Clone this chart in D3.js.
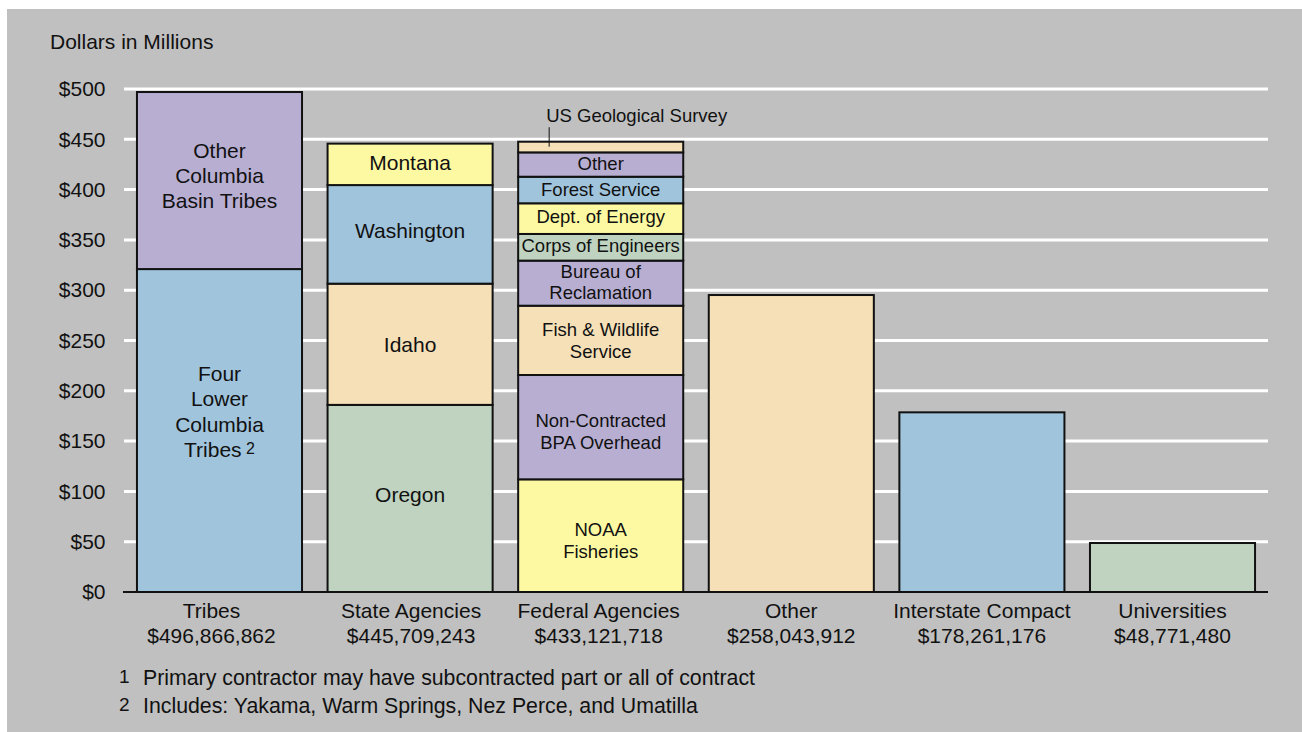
<!DOCTYPE html>
<html>
<head>
<meta charset="utf-8">
<script src="https://cdn.jsdelivr.net/npm/d3@7"></script>
<style>
  html, body { margin: 0; padding: 0; background: #ffffff; }
  svg { display: block; }
  text { font-family: "Liberation Sans", Arial, Helvetica, sans-serif; fill: #111; }
</style>
</head>
<body>
<svg id="chart" width="1302" height="732"></svg>
<script>
// ---------- DATA ----------
const categories = ["Tribes", "State Agencies", "Federal Agencies", "Other", "Interstate Compact", "Universities"];
const totalLabels = ["$496,866,862", "$445,709,243", "$433,121,718", "$258,043,912", "$178,261,176", "$48,771,480"];

const tribesParts  = ["Four Lower Columbia Tribes", "Other Columbia Basin Tribes"];
const tribesValues = [321, 176];

const stateParts  = ["Oregon", "Idaho", "Washington", "Montana"];
const stateValues = [186, 120.5, 98, 41.2];

const federalParts  = ["NOAA Fisheries", "Non-Contracted BPA Overhead", "Fish & Wildlife Service",
                       "Bureau of Reclamation", "Corps of Engineers", "Dept. of Energy",
                       "Forest Service", "Other", "US Geological Survey"];
const federalValues = [112, 103.7, 68.9, 44.8, 26.5, 30.5, 26.4, 24.2, 10.6];

const otherParts = ["Other"];              const otherValues = [295.2];
const interstateParts = ["Interstate Compact"]; const interstateValues = [178.6];
const universitiesParts = ["Universities"];  const universitiesValues = [48.7];

const yTicks = [0, 50, 100, 150, 200, 250, 300, 350, 400, 450, 500];

const footnotes = [
  ["1", "Primary contractor may have subcontracted part or all of contract"],
  ["2", "Includes: Yakama, Warm Springs, Nez Perce, and Umatilla"]
];

// ---------- STYLE ----------
const C = {
  blue: "#a0c4dc", purple: "#b8aed2", green: "#bfd3c0",
  tan: "#f5e0b8", yellow: "#fdf9a2", bg: "#c0c0c0"
};
const segColors = [
  [C.blue, C.purple],
  [C.green, C.tan, C.blue, C.yellow],
  [C.yellow, C.purple, C.tan, C.purple, C.green, C.yellow, C.blue, C.purple, C.tan],
  [C.tan], [C.blue], [C.green]
];
// label layout per segment: lines, font size, line height, vertical nudge; null = no inner label
const segLabels = [
  [ {lines: ["Four", "Lower", "Columbia", "Tribes"], sup: "2", fs: 21, lh: 25.5, nudge: -19},
    {lines: ["Other", "Columbia", "Basin Tribes"], fs: 21, lh: 25, nudge: -5.5} ],
  [ {lines: ["Oregon"], fs: 21, lh: 25, nudge: -4},
    {lines: ["Idaho"], fs: 21, lh: 25, nudge: 0},
    {lines: ["Washington"], fs: 21, lh: 25, nudge: -4},
    {lines: ["Montana"], fs: 21, lh: 25, nudge: -2} ],
  [ {lines: ["NOAA", "Fisheries"], fs: 18.5, lh: 21.5, nudge: 4.5},
    {lines: ["Non-Contracted", "BPA Overhead"], fs: 18.5, lh: 22, nudge: 4.5},
    {lines: ["Fish & Wildlife", "Service"], fs: 18.5, lh: 22, nudge: 0},
    {lines: ["Bureau of", "Reclamation"], fs: 18.5, lh: 21, nudge: -1},
    {lines: ["Corps of Engineers"], fs: 18.5, lh: 21, nudge: -2},
    {lines: ["Dept. of Energy"], fs: 18.5, lh: 21, nudge: -2},
    {lines: ["Forest Service"], fs: 18.5, lh: 21, nudge: -1},
    {lines: ["Other"], fs: 18.5, lh: 21, nudge: -1},
    null ],
  [null], [null], [null]
];
const xLabelNudge = [-8, 1, -2, 0, 0, 0];

const allParts  = [tribesParts, stateParts, federalParts, otherParts, interstateParts, universitiesParts];
const allValues = [tribesValues, stateValues, federalValues, otherValues, interstateValues, universitiesValues];

// ---------- SCALES ----------
const svg = d3.select("#chart");
const plotLeft = 124, plotRight = 1268, yBottom = 592, yTop = 89;

const x = d3.scaleBand().domain(categories).range([plotLeft, plotRight])
  .paddingInner(0.134).paddingOuter(0.068);
const y = d3.scaleLinear().domain([0, 500]).range([yBottom, yTop]);

// background panel
svg.append("rect").attr("x", 7).attr("y", 9).attr("width", 1295).attr("height", 723).attr("fill", C.bg);

// y label
svg.append("text").attr("x", 50).attr("y", 49).attr("font-size", 21).text("Dollars in Millions");

// gridlines
svg.append("g").selectAll("line").data(yTicks.filter(d => d > 0)).join("line")
  .attr("x1", plotLeft).attr("x2", plotRight)
  .attr("y1", d => y(d)).attr("y2", d => y(d))
  .attr("stroke", "#ffffff").attr("stroke-width", 3);

// y axis labels
const yAxis = svg.append("g").attr("transform", `translate(${plotLeft},0)`)
  .call(d3.axisLeft(y).tickValues(yTicks).tickFormat(d => "$" + d).tickSize(0).tickPadding(18.5));
yAxis.select(".domain").remove();
yAxis.selectAll("text").attr("font-size", 21).attr("font-family", '"Liberation Sans", Arial, sans-serif').attr("fill", "#111");

// bars
const barsG = svg.append("g");
categories.forEach((cat, ci) => {
  const vals = allValues[ci];
  let cum = 0;
  const segs = vals.map((v, i) => {
    const s = {cat, i, name: allParts[ci][i], y0: cum, y1: cum + v};
    cum += v;
    return s;
  });
  const g = barsG.append("g");
  g.selectAll("rect").data(segs).join("rect")
    .attr("x", x(cat)).attr("width", x.bandwidth())
    .attr("y", d => y(d.y1)).attr("height", d => y(d.y0) - y(d.y1))
    .attr("fill", d => segColors[ci][d.i])
    .attr("stroke", "#111").attr("stroke-width", 2);

  segs.forEach(s => {
    const L = segLabels[ci][s.i];
    if (!L) return;
    const cx = x(cat) + x.bandwidth() / 2;
    const cy = (y(s.y0) + y(s.y1)) / 2 + L.nudge;
    const n = L.lines.length;
    const cap = 0.716 * L.fs;
    const firstBase = cy - (n - 1) * L.lh / 2 + cap / 2;
    L.lines.forEach((line, li) => {
      const t = g.append("text").attr("x", cx).attr("y", firstBase + li * L.lh)
        .attr("text-anchor", "middle").attr("font-size", L.fs);
      t.append("tspan").text(line);
      if (L.sup && li === n - 1) {
        t.append("tspan").attr("font-size", 16).attr("dy", -3.5).text("\u00a0" + L.sup);
      }
    });
  });

  // US Geological Survey callout
  if (cat === "Federal Agencies") {
    const usgs = segs[segs.length - 1];
    const lx = x(cat) + 31;
    g.append("line").attr("x1", lx).attr("x2", lx)
      .attr("y1", y(usgs.y1) - 14.5).attr("y2", y(usgs.y1) + 5)
      .attr("stroke", "#111").attr("stroke-width", 1);
    g.append("text").attr("x", x(cat) + 28).attr("y", y(usgs.y1) - 20)
      .attr("font-size", 18.5).text(usgs.name);
  }
});

// x axis baseline
svg.append("line").attr("x1", plotLeft - 1).attr("x2", plotRight)
  .attr("y1", yBottom).attr("y2", yBottom).attr("stroke", "#111").attr("stroke-width", 2);

// category labels
const xl = svg.append("g");
categories.forEach((cat, ci) => {
  const cx = x(cat) + x.bandwidth() / 2 + xLabelNudge[ci];
  xl.append("text").attr("x", cx).attr("y", 617.5).attr("text-anchor", "middle")
    .attr("font-size", 21).text(cat);
  xl.append("text").attr("x", cx).attr("y", 643).attr("text-anchor", "middle")
    .attr("font-size", 21).text(totalLabels[ci]);
});

// footnotes
footnotes.forEach((f, i) => {
  const by = 685 + i * 28;
  svg.append("text").attr("x", 119).attr("y", by - 2).attr("font-size", 19).text(f[0]);
  svg.append("text").attr("x", 143).attr("y", by).attr("font-size", 21.3).text(f[1]);
});
</script>
</body>
</html>
